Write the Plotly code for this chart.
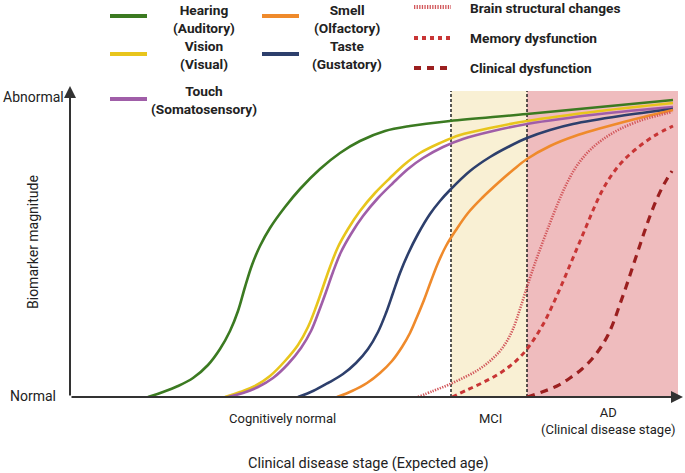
import plotly.graph_objects as go

# ---------------- data ----------------
# x: position along the clinical-stage axis, y: biomarker magnitude (0 = normal)
hearing_x = [148, 163, 178, 193, 208, 220, 230, 238, 245, 252, 260, 270, 285, 300, 320, 340, 360, 385, 410, 450, 527, 673]
hearing_y = [0, 5, 11, 19, 32, 48, 66, 86, 110, 132, 151, 169, 190, 208, 228, 244, 256, 266, 271, 276, 283, 297]

vision_x = [225, 240, 255, 270, 285, 298, 308, 316, 323, 330, 338, 348, 360, 375, 390, 405, 420, 440, 460, 490, 527, 600, 673]
vision_y = [0, 5, 11, 21, 36, 52, 70, 90, 110, 130, 150, 168, 186, 204, 219, 233, 244, 254, 262, 269, 276, 286, 294]

touch_x = [228, 243, 258, 273, 288, 301, 311, 319, 326, 333, 341, 351, 363, 378, 393, 408, 423, 443, 463, 493, 527, 600, 673]
touch_y = [0, 4, 10, 19, 33, 49, 66, 86, 105, 125, 145, 163, 181, 199, 214, 228, 239, 250, 258, 266, 273, 283, 290]

taste_x = [298, 313, 328, 343, 356, 368, 378, 386, 393, 400, 408, 418, 430, 440, 450, 470, 490, 510, 527, 550, 573, 620, 673]
taste_y = [0, 6, 14, 23, 34, 48, 65, 84, 104, 124, 143, 163, 183, 196, 207, 226, 240, 251, 259, 267, 273, 281, 288]

smell_x = [337, 352, 367, 380, 392, 402, 410, 417, 424, 431, 438, 446, 456, 468, 482, 498, 513, 527, 550, 575, 620, 673]
smell_y = [0, 6, 14, 24, 36, 50, 64, 80, 97, 116, 134, 151, 167, 184, 199, 214, 227, 238, 251, 261, 274, 287]

brain_x = [418, 433, 448, 463, 478, 490, 500, 507, 513, 520, 527, 534, 542, 550, 558, 566, 576, 588, 602, 620, 642, 660, 672]
brain_y = [0, 6, 12, 19, 27, 36, 46, 56, 68, 88, 110, 131, 153, 174, 194, 212, 230, 245, 257, 268, 277, 282, 285]

memory_x = [452, 467, 482, 497, 510, 521, 530, 538, 546, 554, 562, 570, 578, 586, 594, 602, 611, 622, 636, 654, 673]
memory_y = [0, 7, 14, 22, 31, 41, 52, 64, 78, 95, 113, 132, 151, 170, 189, 206, 221, 235, 248, 261, 271]

clinical_x = [527, 542, 557, 570, 582, 592, 601, 608, 614, 620, 626, 632, 638, 644, 650, 656, 662, 667, 672]
clinical_y = [0, 5, 11, 19, 28, 38, 50, 62, 76, 93, 110, 128, 146, 164, 181, 196, 209, 218, 226]

stage_labels = ["Cognitively normal", "MCI", "AD<br>(Clinical disease stage)"]
mci_start, ad_start, ad_end = 451, 527, 678
band_top = 306

# ---------------- layout helpers ----------------
W, H = 685, 473
ML, MR, MT, MB = 70, 0, 80, 76
X0, X1 = 70, 685
Y1 = H - MT - MB  # 317


def px(xp):
    return (xp - ML) / (W - ML - MR)


def py(yp):
    return (H - MB - yp) / (H - MT - MB)


FONT = "Roboto"
fig = go.Figure()

series = [
    ("Hearing (Auditory)", hearing_x, hearing_y, "#3b7a21", "solid", 2.6),
    ("Vision (Visual)", vision_x, vision_y, "#e8c51c", "solid", 2.6),
    ("Touch (Somatosensory)", touch_x, touch_y, "#a05ea8", "solid", 2.6),
    ("Taste (Gustatory)", taste_x, taste_y, "#2d3f6c", "solid", 2.6),
    ("Smell (Olfactory)", smell_x, smell_y, "#ef8a2b", "solid", 2.6),
    ("Brain structural changes", brain_x, brain_y, "#d2575b", "1.3px,1.3px", 2.6),
    ("Memory dysfunction", memory_x, memory_y, "#c83535", "5px,4px", 3),
    ("Clinical dysfunction", clinical_x, clinical_y, "#9b1f1f", "8px,6px", 3.2),
]

for name, xs, ys, col, dash, w in series:
    fig.add_trace(go.Scatter(
        x=xs, y=ys, mode="lines", name=name,
        line=dict(color=col, width=w, dash=dash, shape="spline", smoothing=1.0),
        showlegend=False, hoverinfo="skip",
    ))

shapes = []
# stage bands
shapes.append(dict(type="rect", xref="x", yref="y", x0=mci_start, x1=ad_start, y0=0, y1=band_top,
                   fillcolor="#f9f0d4", line=dict(width=0), layer="below"))
shapes.append(dict(type="rect", xref="x", yref="y", x0=ad_start, x1=ad_end, y0=0, y1=band_top,
                   fillcolor="#efbcbe", line=dict(width=0), layer="below"))
for xv in (mci_start, ad_start):
    shapes.append(dict(type="line", xref="x", yref="y", x0=xv, x1=xv, y0=0, y1=band_top,
                       line=dict(color="#222", width=1.5, dash="3px,2px"), layer="below"))

# legend samples (paper coords)
leg_lines = [
    (110, 147, 16, "#3b7a21", "solid", 4),
    (110, 147, 54, "#e8c51c", "solid", 4),
    (110, 147, 99, "#a05ea8", "solid", 4),
    (262, 299, 16, "#ef8a2b", "solid", 4),
    (262, 299, 54, "#2d3f6c", "solid", 4),
    (414, 451, 7, "#d2575b", "1.3px,1.3px", 4),
    (414, 451, 38, "#c83535", "4px,4px", 4),
    (414, 451, 68, "#9b1f1f", "7px,6px", 4),
]
for x0, x1, yy, col, dash, w in leg_lines:
    shapes.append(dict(type="line", xref="paper", yref="paper", x0=px(x0), x1=px(x1), y0=py(yy), y1=py(yy),
                       line=dict(color=col, width=w, dash=dash)))

annotations = []
# axes arrows
annotations.append(dict(x=683, y=0, ax=X0, ay=0, xref="x", yref="y", axref="x", ayref="y",
                        showarrow=True, arrowhead=2, arrowsize=1.2, arrowwidth=2, arrowcolor="#333", text=""))
annotations.append(dict(x=X0, y=311, ax=X0, ay=0, xref="x", yref="y", axref="x", ayref="y",
                        showarrow=True, arrowhead=2, arrowsize=1.2, arrowwidth=2, arrowcolor="#333", text=""))


def txt(t, xp, yp, size=13, bold=False, xanchor="center", align="center", angle=0):
    annotations.append(dict(
        text=("<b>" + t + "</b>") if bold else t, x=px(xp), y=py(yp), xref="paper", yref="paper",
        xanchor=xanchor, yanchor="middle", align=align, showarrow=False, textangle=angle,
        font=dict(family=FONT, size=size, color="#222"),
    ))


txt("Abnormal", 66, 97, size=14, xanchor="right")
txt("Normal", 58, 396, size=14, xanchor="right")
txt("Biomarker magnitude", 33, 242, size=14, angle=-90)
txt(stage_labels[0], 282, 418, size=13)
txt(stage_labels[1], 490, 418, size=13)
txt(stage_labels[2], 608, 421, size=13)
txt("Clinical disease stage (Expected age)", 368, 463, size=14.5)

# legend texts
LS = 13.7
txt("Hearing<br>(Auditory)", 204, 19, size=LS, bold=True)
txt("Vision<br>(Visual)", 204, 55, size=LS, bold=True)
txt("Touch<br>(Somatosensory)", 204, 100, size=LS, bold=True)
txt("Smell<br>(Olfactory)", 347, 19, size=LS, bold=True)
txt("Taste<br>(Gustatory)", 347, 55, size=LS, bold=True)
txt("Brain structural changes", 468, 8, size=LS, bold=True, xanchor="left")
txt("Memory dysfunction", 468, 38, size=LS, bold=True, xanchor="left")
txt("Clinical dysfunction", 468, 68, size=LS, bold=True, xanchor="left")

fig.update_layout(
    width=W, height=H,
    margin=dict(l=ML, r=MR, t=MT, b=MB, pad=0),
    paper_bgcolor="white", plot_bgcolor="white",
    xaxis=dict(range=[X0, X1], visible=False, fixedrange=True),
    yaxis=dict(range=[0, Y1], visible=False, fixedrange=True),
    shapes=shapes, annotations=annotations,
    showlegend=False,
)

fig.write_html("out.html", config={"displayModeBar": False},
               post_script="document.body.style.margin='0';document.body.style.overflow='hidden';")
